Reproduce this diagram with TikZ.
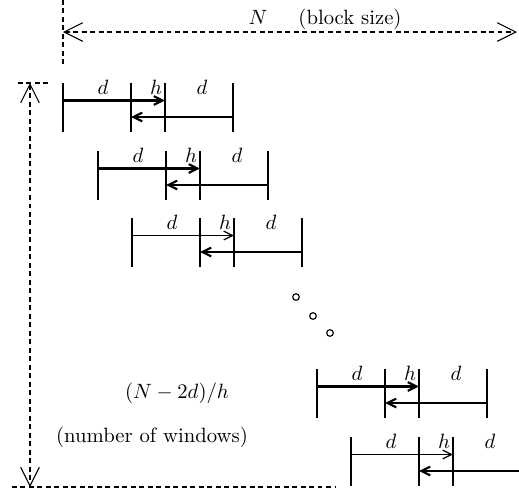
\documentclass[tikz,border=0pt]{standalone}
\usetikzlibrary{arrows.meta}
\begin{document}
\begin{tikzpicture}[x=0.4831pt, y=-0.4831pt,
  dimline/.style={line width=0.5pt, dash pattern=on 2.4pt off 1.7pt},
  bigtip/.tip={Straight Barb[length=9pt,width=9pt]},
  smalltip/.tip={Straight Barb[length=4.3pt,width=4.2pt]},
  wline/.style={line width=1pt},
  thinarrow/.style={line width=0.6pt, -{smalltip}},
  thickarrow/.style={line width=1pt, -{smalltip}},
  lbl/.style={anchor=base, inner sep=0pt},
  dot/.style={line width=0.55pt}]
\clip (0,0) rectangle (519,494);
% block size dimension
\coordinate (vtop) at (63,0);
\coordinate (vbot) at (63,66);
\draw[dimline] (vtop) -- (vbot);
\coordinate (nl) at (63,32);
\coordinate (nr) at (517,32);
\draw[dimline, {bigtip}-{bigtip}] (nl) -- (nr);
\node[lbl] (N) at (258,24) {$N$};
\node[lbl] (bs) at (350,24) {(block size)};
% number of windows dimension
\coordinate (wt) at (30,83);
\coordinate (wb) at (30,487);
\draw[dimline, {bigtip}-{bigtip}] (wt) -- (wb);
\coordinate (tl) at (18,83);
\coordinate (tr) at (48,83);
\draw[dimline] (tl) -- (tr);
\coordinate (bl) at (12,487);
\coordinate (br) at (336,487);
\draw[dimline] (bl) -- (br);
\node[lbl] (frac) at (177,398) {$(N-2d)/h$};
\node[lbl] (now) at (152,442) {(number of windows)};
% windows
\foreach \i/\x/\y/\up in {1/63/83/thickarrow, 2/98/151/thickarrow, 3/132/218/thinarrow, 4/317/369/thickarrow, 5/351/437/thinarrow}{
  \coordinate (t0\i) at (\x,\y);
  \coordinate (t1\i) at (\x+68,\y);
  \coordinate (t2\i) at (\x+102,\y);
  \coordinate (t3\i) at (\x+170,\y);
  \coordinate (b0\i) at (\x,\y+49);
  \coordinate (b1\i) at (\x+68,\y+49);
  \coordinate (b2\i) at (\x+102,\y+49);
  \coordinate (b3\i) at (\x+170,\y+49);
  \coordinate (u0\i) at (\x,\y+17.5);
  \coordinate (u2\i) at (\x+102,\y+17.5);
  \coordinate (l3\i) at (\x+170,\y+34);
  \coordinate (l1\i) at (\x+68,\y+34);
  \draw[wline] (t0\i) -- (b0\i);
  \draw[wline] (t1\i) -- (b1\i);
  \draw[wline] (t2\i) -- (b2\i);
  \draw[wline] (t3\i) -- (b3\i);
  \draw[\up] (u0\i) -- (u2\i);
  \draw[thickarrow] (l3\i) -- (l1\i);
  \node[lbl] (da\i) at (\x+40,\y+11) {$d$};
  \node[lbl] (h\i) at (\x+93,\y+11) {$h$};
  \node[lbl] (db\i) at (\x+139,\y+11) {$d$};
}
% dots
\draw[dot] (296,297) circle[radius=1.6pt];
\draw[dot] (313,316) circle[radius=1.6pt];
\draw[dot] (330,333) circle[radius=1.6pt];
\end{tikzpicture}
\end{document}
